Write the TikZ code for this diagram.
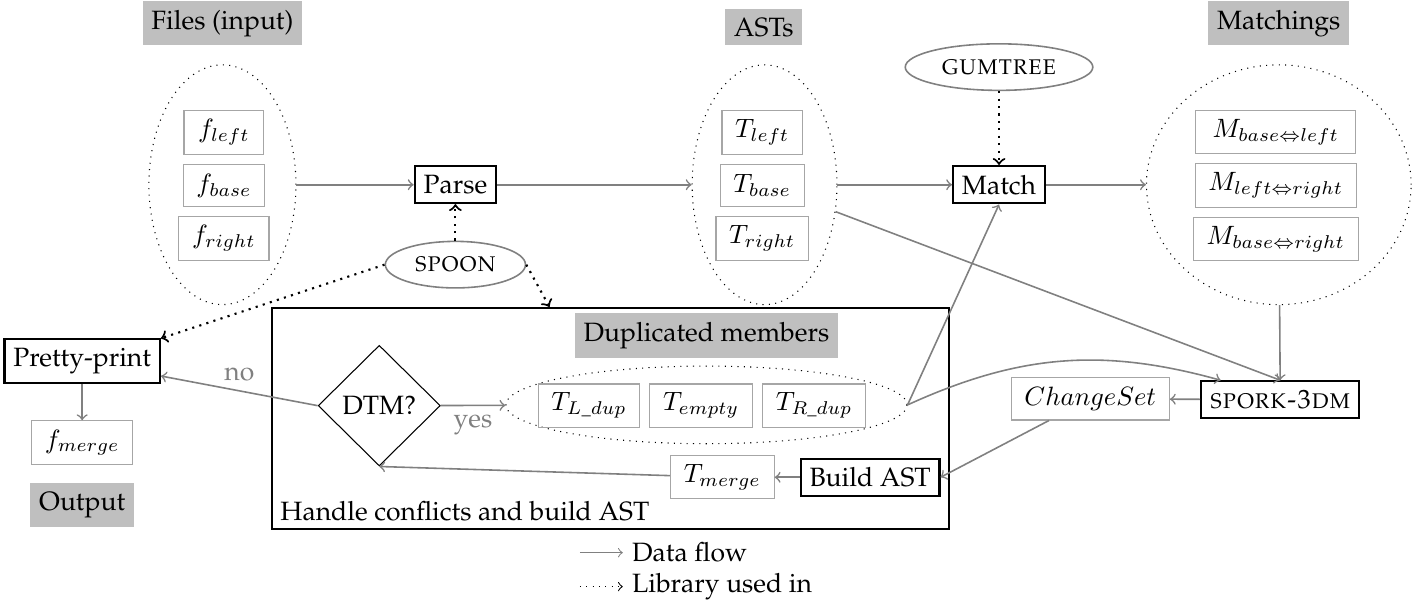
\documentclass[tikz,border=0pt]{standalone}
\usepackage[T1]{fontenc}
\usepackage{palatino}
\usepackage{amsmath,amssymb}
\usepackage{tikz}
\usetikzlibrary{positioning,shapes.geometric,calc}

\begin{document}
\begin{tikzpicture}[
    header/.style={fill=gray!50},
    datum/.style={draw=gray!70, thin, inner xsep=5pt, minimum width=1.06cm, minimum height=0.56cm},
    stage/.style={draw=black, thick},
    lib/.style={ellipse, draw=gray, semithick},
    group/.style={ellipse, draw=black, thin, dotted},
    flow/.style={->, draw=gray, semithick},
    uses/.style={->, thick, dotted}
  ]
  \useasboundingbox (0,0) rectangle (18.78,-7.97);

  % input files
  \node[group, minimum width=1.95cm, minimum height=3.18cm] (files) at (2.95,-2.45) {};
  \node[header, anchor=south] (hfiles) at (2.95,-0.61) {Files (input)};
  \node[datum] (fbase) at (2.97,-2.46) {$f_{base}$};
  \node[datum, above=0.12cm of fbase] (fleft) {$f_{left}$};
  \node[datum, below=0.12cm of fbase] (fright) {$f_{right}$};

  % trees
  \node[group, minimum width=1.92cm, minimum height=3.18cm] (asts) at (10.14,-2.45) {};
  \node[header, anchor=south] (hasts) at (10.13,-0.61) {ASTs};
  \node[datum] (tbase) at (10.11,-2.46) {$T_{base}$};
  \node[datum, above=0.12cm of tbase] (tleft) {$T_{left}$};
  \node[datum, below=0.12cm of tbase] (tright) {$T_{right}$};

  % matchings
  \node[group, minimum width=3.51cm, minimum height=3.18cm] (matchings) at (16.96,-2.45) {};
  \node[header, anchor=south] (hmatchings) at (16.96,-0.61) {Matchings};
  \node[datum, minimum width=2.12cm] (mlr) at (16.92,-2.46) {$M_{left\Leftrightarrow right}$};
  \node[datum, minimum width=2.12cm, above=0.12cm of mlr] (mbl) {$M_{base\Leftrightarrow left}$};
  \node[datum, minimum width=2.12cm, below=0.12cm of mlr] (mbr) {$M_{base\Leftrightarrow right}$};

  \node[stage] (parse) at (6.04,-2.45) {Parse};
  \node[stage] (match) at (13.25,-2.45) {Match};
  \node[lib] (gumtree) at (13.25,-0.89) {\textsc{gumtree}};
  \node[lib] (spoon) at (6.04,-3.51) {\textsc{spoon}};

  % output
  \node[stage] (pretty) at (1.09,-4.79) {Pretty-print};
  \node[datum] (fmerge) at (1.09,-5.87) {$f_{merge}$};
  \node[header] (houtput) at (1.09,-6.70) {Output};

  % conflict handling
  \node[stage, minimum width=8.98cm, minimum height=2.93cm] (handle) at (8.10,-5.55) {};
  \node[anchor=south west] (handlelabel) at (handle.south west) {Handle conflicts and build AST};
  \node[header] (hdup) at (9.37,-4.45) {Duplicated members};
  \node[group, minimum width=5.32cm, minimum height=1.03cm] (dup) at (9.37,-5.37) {};
  \node[datum] (tempty) at (9.30,-5.38) {$T_{empty}$};
  \node[datum, left=0.12cm of tempty] (tldup) {$T_{L\_dup}$};
  \node[datum, right=0.12cm of tempty] (trdup) {$T_{R\_dup}$};
  \node[diamond, draw, thin, minimum width=1.62cm, minimum height=1.6cm, inner sep=0pt] (dtm) at (5.03,-5.38) {DTM?};
  \node[datum] (tmerge) at (9.58,-6.33) {$T_{merge}$};
  \node[stage] (build) at (11.54,-6.33) {Build AST};

  \node[datum] (changeset) at (14.46,-5.29) {$ChangeSet$};
  \node[stage] (spork) at (16.98,-5.30) {\textsc{spork-3dm}};

  \draw[flow] (files) -- (parse);
  \draw[flow] (parse) -- (asts);
  \draw[flow] (asts) -- (match);
  \draw[flow] (match) -- (matchings);
  \draw[flow] (asts) -- (spork.north);
  \draw[flow] (matchings) -- (spork);
  \draw[flow] (spork) -- (changeset);
  \draw[flow] (changeset) -- (build.east);
  \draw[flow] (build) -- (tmerge);
  \draw[flow] (tmerge) -- (dtm.south);
  \draw[flow] (dtm.west) -- node[above, text=gray] {no} (pretty);
  \draw[flow] (dtm) -- node[below, text=gray] {yes} (dup);
  \draw[flow] (dup.east) -- (match.south);
  \draw[flow] (dup.east) to[bend left=20] (spork.162);
  \draw[flow] (pretty) -- (fmerge);

  \draw[uses] (gumtree) -- (match);
  \draw[uses] (spoon) -- (parse);
  \draw[uses] (spoon.west) -- (pretty.north east);
  \draw[uses] (spoon.east) -- (handle);

  % legend
  \node[anchor=west] (lflow) at (8.26,-7.33) {Data flow};
  \node[anchor=west] (llib) at (8.26,-7.78) {Library used in};
  \coordinate (lflowstart) at (7.69,-7.33);
  \coordinate (llibstart) at (7.69,-7.78);
  \draw[flow, thin] (lflowstart) -- (lflow.west);
  \draw[->, dotted] (llibstart) -- (llib.west);
\end{tikzpicture}
\end{document}
